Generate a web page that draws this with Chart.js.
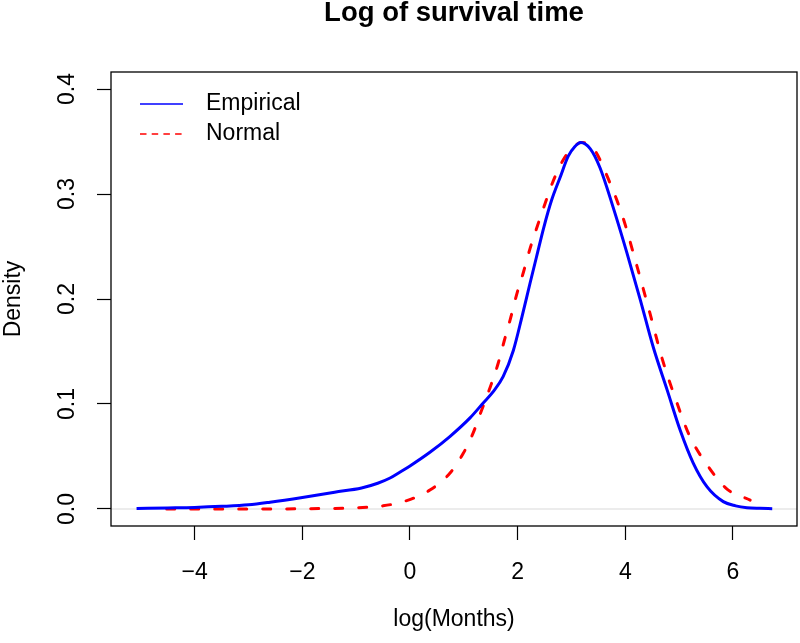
<!DOCTYPE html>
<html>
<head>
<meta charset="utf-8">
<script src="https://cdn.jsdelivr.net/npm/chart.js@4.4.1/dist/chart.umd.min.js"></script>
<style>
  html, body { margin: 0; padding: 0; background: #fff; }
  canvas { display: block; }
</style>
</head>
<body>
<canvas id="densityChart" width="800" height="643"></canvas>
<script>
// density estimates
const empiricalX = [-5.08, -4.5, -4.0, -3.5, -3.0, -2.6, -2.0, -1.4, -0.9, -0.6, -0.37, -0.19, 0.0, 0.37, 0.74, 1.12, 1.36, 1.55, 1.73, 1.92, 2.08, 2.23, 2.35, 2.49, 2.63, 2.79, 2.94, 3.06, 3.17, 3.35, 3.53, 3.77, 4.03, 4.28, 4.52, 4.78, 5.02, 5.26, 5.52, 5.82, 6.05, 6.26, 6.5, 6.73];
const empiricalY = [0.0005, 0.001, 0.0015, 0.0025, 0.004, 0.0065, 0.011, 0.016, 0.020, 0.0245, 0.0295, 0.035, 0.041, 0.054, 0.069, 0.087, 0.101, 0.112, 0.126, 0.151, 0.183, 0.215, 0.240, 0.269, 0.294, 0.316, 0.336, 0.345, 0.349, 0.343, 0.325, 0.288, 0.244, 0.199, 0.154, 0.113, 0.075, 0.044, 0.021, 0.007, 0.003, 0.0012, 0.0006, 0.0003];
const normalX = [-4.52, -4.0, -3.0, -2.0, -1.5, -1.06, -0.5, -0.06, 0.37, 0.74, 0.99, 1.17, 1.33, 1.49, 1.64, 1.75, 1.87, 1.98, 2.11, 2.23, 2.37, 2.51, 2.65, 2.84, 3.0, 3.19, 3.40, 3.72, 3.96, 4.18, 4.46, 4.68, 4.96, 5.20, 5.52, 5.89, 6.32];
const normalY = [0, 0, 0, 0.0002, 0.0005, 0.001, 0.003, 0.008, 0.018, 0.034, 0.053, 0.072, 0.094, 0.116, 0.139, 0.160, 0.182, 0.204, 0.226, 0.248, 0.270, 0.291, 0.311, 0.332, 0.343, 0.349, 0.344, 0.310, 0.277, 0.238, 0.186, 0.144, 0.101, 0.069, 0.042, 0.019, 0.0085];
const seriesLabels = ['Empirical', 'Normal'];
const xTickValues = [-4, -2, 0, 2, 4, 6];
const yTickValues = [0, 0.1, 0.2, 0.3, 0.4];

const FONT = '"Liberation Sans", Arial, Helvetica, sans-serif';
const toPoints = (xs, ys) => xs.map((x, i) => ({ x: x, y: ys[i] }));
const minusSign = v => (v < 0 ? '\u2212' + Math.abs(v) : String(v));

// box round the plot region + faint zero line, like R's plot()
const framePlugin = {
  id: 'frame',
  beforeDatasetsDraw(chart) {
    const { ctx, chartArea, scales } = chart;
    const y0 = scales.y.getPixelForValue(0);
    ctx.save();
    ctx.strokeStyle = '#e6e6e6';
    ctx.lineWidth = 1.5;
    ctx.beginPath();
    ctx.moveTo(chartArea.left, y0);
    ctx.lineTo(chartArea.right, y0);
    ctx.stroke();
    ctx.restore();
  },
  afterDraw(chart) {
    const { ctx, chartArea } = chart;
    ctx.save();
    ctx.strokeStyle = '#000';
    ctx.lineWidth = 1.3;
    ctx.strokeRect(chartArea.left, chartArea.top, chartArea.right - chartArea.left, chartArea.bottom - chartArea.top);
    ctx.restore();
  }
};

// legend without a box in the top-left corner of the plot
const insetLegend = {
  id: 'insetLegend',
  afterDraw(chart) {
    const { ctx, chartArea } = chart;
    ctx.save();
    ctx.font = '23px ' + FONT;
    ctx.textBaseline = 'middle';
    chart.data.datasets.forEach((ds, i) => {
      const x = chartArea.left + 29;
      const y = chartArea.top + 32 + i * 30;
      ctx.strokeStyle = ds.borderColor;
      ctx.lineWidth = 1.5;
      ctx.setLineDash(ds.borderDash ? [6.5, 5.2] : []);
      ctx.beginPath();
      ctx.moveTo(x, y);
      ctx.lineTo(x + 43, y);
      ctx.stroke();
      ctx.fillStyle = '#000';
      ctx.fillText(ds.label, x + 66, y);
    });
    ctx.restore();
  }
};

const tickFont = { family: FONT, size: 23 };

new Chart(document.getElementById('densityChart'), {
  type: 'line',
  data: {
    datasets: [
      {
        label: seriesLabels[0],
        data: toPoints(empiricalX, empiricalY),
        borderColor: '#0000ff',
        borderWidth: 3
      },
      {
        label: seriesLabels[1],
        data: toPoints(normalX, normalY),
        borderColor: '#ff0000',
        borderWidth: 3,
        borderDash: [8, 16],
        borderCapStyle: 'round'
      }
    ]
  },
  options: {
    responsive: false,
    animation: false,
    layout: { padding: { left: 0, right: 3, top: 0, bottom: 0 } },
    elements: {
      point: { radius: 0 },
      line: { cubicInterpolationMode: 'monotone', fill: false }
    },
    plugins: {
      legend: { display: false },
      tooltip: { enabled: false },
      title: {
        display: true,
        text: 'Log of survival time',
        fullSize: false,
        color: '#000',
        font: { family: FONT, size: 27.5, weight: 'bold', lineHeight: 1 },
        padding: { top: 0, bottom: 44.5 }
      }
    },
    scales: {
      x: {
        type: 'linear',
        min: -5.555,
        max: 7.19,
        afterBuildTicks: s => { s.ticks = xTickValues.map(v => ({ value: v })); },
        afterFit: s => { s.height = 117; },
        grid: { drawOnChartArea: false, drawTicks: true, tickLength: 14, tickColor: '#000', tickWidth: 1.2 },
        border: { display: false },
        ticks: { color: '#000', font: tickFont, padding: 19, maxRotation: 0, autoSkip: false, callback: v => minusSign(v) },
        title: { display: true, text: 'log(Months)', color: '#000', font: tickFont, padding: { top: 0, bottom: 10 } }
      },
      y: {
        min: -0.0162,
        max: 0.4162,
        afterBuildTicks: s => { s.ticks = yTickValues.map(v => ({ value: v })); },
        afterFit: s => { s.width = 111; },
        grid: { drawOnChartArea: false, drawTicks: true, tickLength: 14, tickColor: '#000', tickWidth: 1.2 },
        border: { display: false },
        ticks: { color: '#000', font: tickFont, padding: 13, minRotation: 90, maxRotation: 90, crossAlign: 'center', autoSkip: false, callback: v => v.toFixed(1) },
        title: { display: true, text: 'Density', color: '#000', font: tickFont, padding: { top: 0, bottom: 0 } }
      }
    }
  },
  plugins: [framePlugin, insetLegend]
});
</script>
</body>
</html>
